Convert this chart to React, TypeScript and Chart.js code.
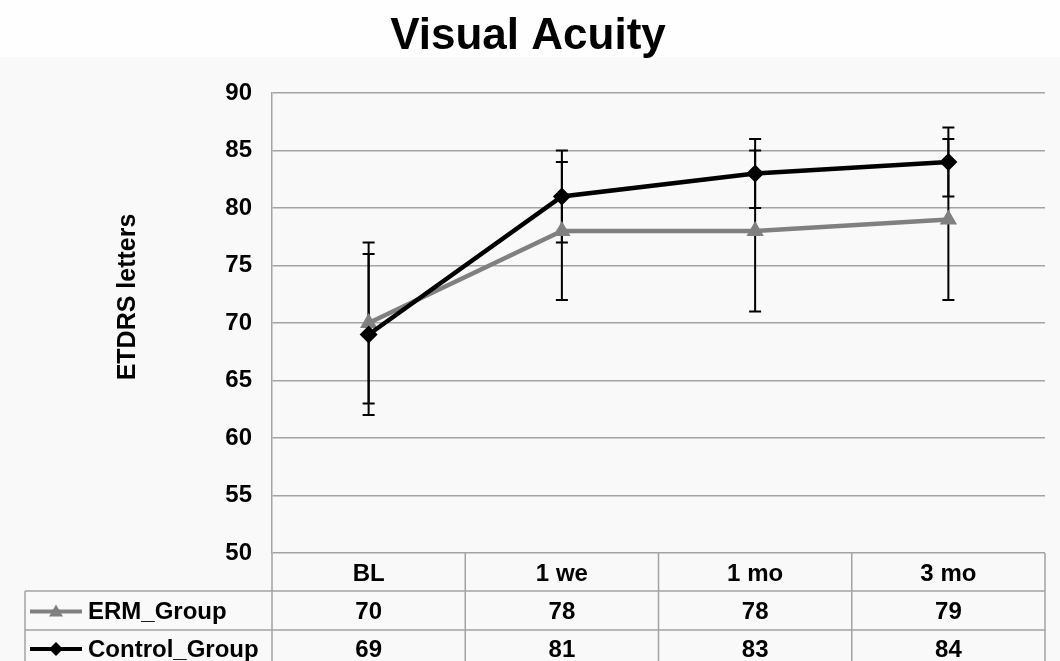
import React, { useEffect, useRef } from "react";
import { Chart, registerables } from "chart.js";

Chart.register(...registerables);

const categories = ["BL", "1 we", "1 mo", "3 mo"];
const ermValues = [70, 78, 78, 79];
const ermErrors = [7, 6, 7, 7];
const controlValues = [69, 81, 83, 84];
const controlErrors = [7, 4, 3, 3];
const seriesNames = ["ERM_Group", "Control_Group"];
const yTicks = { min: 50, max: 90, step: 5 };

const FONT = "'Liberation Sans', Arial, sans-serif";
const GRAY = "#808080";
const GRID = "#a3a3a3";

const bgPlugin = {
  id: "bg",
  beforeDraw(chart: any) {
    const ctx = chart.ctx;
    ctx.save();
    ctx.fillStyle = "#f9f9f9";
    ctx.fillRect(0, 0, chart.width, chart.height);
    ctx.fillStyle = "#fefefe";
    ctx.fillRect(0, 0, chart.width, 57);
    ctx.restore();
  },
};

const errorBarPlugin = {
  id: "errorBars",
  beforeDatasetsDraw(chart: any) {
    const ctx = chart.ctx;
    const y = chart.scales.y;
    const errs = [ermErrors, controlErrors];
    ctx.save();
    ctx.strokeStyle = "#000";
    ctx.lineWidth = 2;
    chart.data.datasets.forEach((ds: any, di: number) => {
      const meta = chart.getDatasetMeta(di);
      meta.data.forEach((pt: any, i: number) => {
        const v = ds.data[i];
        const e = errs[di][i];
        const x = pt.x;
        const yt = y.getPixelForValue(v + e);
        const yb = y.getPixelForValue(v - e);
        ctx.beginPath();
        ctx.moveTo(x, yt);
        ctx.lineTo(x, yb);
        ctx.moveTo(x - 6, yt);
        ctx.lineTo(x + 6, yt);
        ctx.moveTo(x - 6, yb);
        ctx.lineTo(x + 6, yb);
        ctx.stroke();
      });
    });
    ctx.restore();
  },
};

const tablePlugin = {
  id: "dataTable",
  afterDraw(chart: any) {
    const ctx = chart.ctx;
    const area = chart.chartArea;
    const xs = chart.scales.x;
    const left = 25;
    const top = area.bottom;
    const rows = [top, top + 38, top + 77, top + 113];
    const n = categories.length;
    const band = (area.right - area.left) / n;
    ctx.save();
    // Title
    ctx.fillStyle = "#000";
    ctx.font = `bold 44px ${FONT}`;
    ctx.textAlign = "center";
    ctx.textBaseline = "middle";
    ctx.fillText("Visual Acuity", 528, 37);
    // Y title
    ctx.save();
    ctx.translate(128, 297);
    ctx.rotate(-Math.PI / 2);
    ctx.font = `bold 25px ${FONT}`;
    ctx.fillText("ETDRS letters", 0, 0);
    ctx.restore();

    // table lines
    ctx.strokeStyle = GRID;
    ctx.lineWidth = 1.5;
    ctx.beginPath();
    for (let r = 1; r < 3; r++) {
      ctx.moveTo(left, rows[r]);
      ctx.lineTo(area.right, rows[r]);
    }
    ctx.moveTo(left, rows[1]);
    ctx.lineTo(left, chart.height + 2);
    for (let c = 0; c <= n; c++) {
      const x = area.left + band * c;
      ctx.moveTo(x, rows[0]);
      ctx.lineTo(x, chart.height + 2);
    }
    ctx.stroke();

    // header
    ctx.fillStyle = "#000";
    ctx.font = `bold 24px ${FONT}`;
    ctx.textAlign = "center";
    categories.forEach((c, i) => {
      ctx.fillText(c, xs.getPixelForValue(i), (rows[0] + rows[1]) / 2 + 2);
    });
    const vals = [ermValues, controlValues];
    vals.forEach((arr, r) => {
      const cy = (rows[r + 1] + rows[r + 2]) / 2 + 2;
      arr.forEach((v, i) => {
        ctx.fillText(String(v), xs.getPixelForValue(i), cy);
      });
    });
    // legend entries
    ctx.textAlign = "left";
    seriesNames.forEach((name, r) => {
      const cy = (rows[r + 1] + rows[r + 2]) / 2 + 1;
      const color = r === 0 ? GRAY : "#000";
      ctx.strokeStyle = color;
      ctx.fillStyle = color;
      ctx.lineWidth = 4;
      ctx.beginPath();
      ctx.moveTo(30, cy);
      ctx.lineTo(82, cy);
      ctx.stroke();
      ctx.beginPath();
      if (r === 0) {
        ctx.moveTo(56, cy - 7);
        ctx.lineTo(63, cy + 5);
        ctx.lineTo(49, cy + 5);
      } else {
        ctx.moveTo(56, cy - 7);
        ctx.lineTo(63, cy);
        ctx.lineTo(56, cy + 7);
        ctx.lineTo(49, cy);
      }
      ctx.closePath();
      ctx.fill();
      ctx.fillStyle = "#000";
      ctx.fillText(name, 88, cy + 1);
    });
    ctx.restore();
  },
};

export default function App() {
  const ref = useRef<HTMLCanvasElement>(null);
  useEffect(() => {
    document.body.style.margin = "0";
    const chart = new Chart(ref.current!, {
      type: "line",
      data: {
        labels: categories,
        datasets: [
          {
            label: seriesNames[0],
            data: ermValues,
            borderColor: GRAY,
            backgroundColor: GRAY,
            borderWidth: 4.5,
            pointStyle: "triangle",
            pointRadius: 10,
            pointBorderWidth: 0,
            tension: 0,
            order: 1,
          },
          {
            label: seriesNames[1],
            data: controlValues,
            borderColor: "#000",
            backgroundColor: "#000",
            borderWidth: 4.5,
            pointStyle: "rectRot",
            pointRadius: 9,
            pointBorderWidth: 0,
            tension: 0,
            order: 0,
          },
        ],
      },
      options: {
        responsive: false,
        animation: false,
        layout: { padding: { top: 93, right: 15, left: 0, bottom: 0 } },
        plugins: {
          legend: { display: false },
          title: { display: false },
          tooltip: { enabled: false },
        },
        scales: {
          x: {
            type: "category",
            offset: true,
            ticks: { display: false },
            grid: { display: false },
            border: { display: false },
            afterFit(s: any) {
              s.height = 108;
            },
          },
          y: {
            min: yTicks.min,
            max: yTicks.max,
            ticks: {
              stepSize: yTicks.step,
              color: "#000",
              font: { family: FONT, size: 24, weight: "bold" },
              padding: 20,
            },
            grid: { color: GRID, lineWidth: 1.5, drawTicks: false },
            border: { display: true, color: GRID, width: 1.5 },
            afterFit(s: any) {
              s.width = 272;
            },
          },
        },
      },
      plugins: [bgPlugin, errorBarPlugin, tablePlugin],
    } as any);
    return () => chart.destroy();
  }, []);
  return (
    <div style={{ width: 1060, height: 661 }}>
      <canvas ref={ref} width={1060} height={661} style={{ display: "block" }} />
    </div>
  );
}
